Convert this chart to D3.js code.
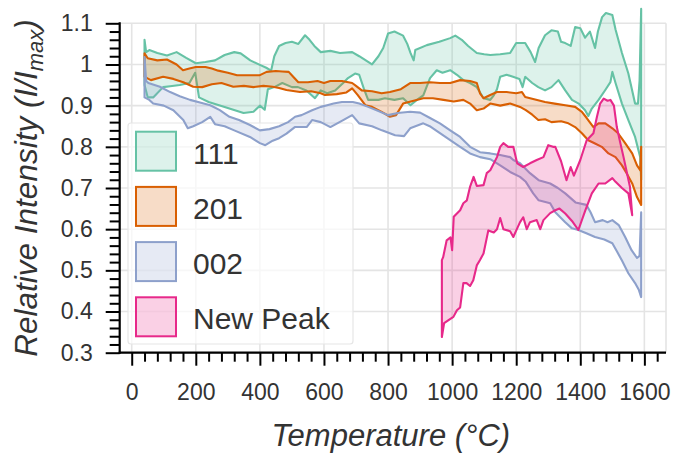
<!DOCTYPE html>
<html>
<head>
<meta charset="utf-8">
<script src="https://cdn.jsdelivr.net/npm/d3@7"></script>
<style>
  body { margin: 0; background: #fff; }
  svg { display: block; font-family: "Liberation Sans", Arial, sans-serif; }
</style>
</head>
<body>
<div id="chart"></div>
<script>
// series names + colours
const seriesNames = ["111", "201", "002", "New Peak"];
const seriesColors = ["#66c2a5", "#d95f02", "#8da0cb", "#e7298a"];

const xTicks = [0, 200, 400, 600, 800, 1000, 1200, 1400, 1600];
const yTicks = [0.3, 0.4, 0.5, 0.6, 0.7, 0.8, 0.9, 1.0, 1.1];

// upper / lower envelope of each band, [temperature, intensity]
const hi111 = [[40,1.06],[45,1.03],[55,1.035],[80,1.028],[110,1.022],[140,1.03],[170,1.016],[200,1.003],[230,1.006],[260,1.01],[290,1.023],[320,1.03],[340,1.027],[370,1.01],[400,0.999],[420,0.992],[435,0.985],[445,1.02],[460,1.045],[480,1.052],[500,1.055],[520,1.05],[541,1.071],[555,1.06],[570,1.045],[590,1.03],[620,1.033],[650,1.028],[688,1.03],[710,1.02],[750,1.0],[770,1.02],[785,1.04],[800,1.075],[820,1.08],[847,1.07],[860,1.05],[870,1.028],[880,1.01],[885,1.035],[921,1.047],[960,1.055],[994,1.064],[1010,1.07],[1030,1.06],[1050,1.045],[1077,1.028],[1100,1.025],[1119,1.023],[1150,1.025],[1181,1.028],[1200,1.052],[1228,1.052],[1245,1.03],[1259,1.006],[1270,1.04],[1290,1.071],[1310,1.083],[1330,1.08],[1340,1.055],[1353,1.052],[1370,1.045],[1384,1.091],[1400,1.088],[1415,1.065],[1430,1.08],[1446,1.04],[1455,1.08],[1468,1.115],[1480,1.125],[1500,1.12],[1510,1.085],[1530,1.028],[1550,0.978],[1571,0.905],[1580,0.905],[1585,0.96],[1590,1.135]];
const lo111 = [[40,0.95],[50,0.92],[67,0.92],[98,0.945],[120,0.947],[150,0.95],[180,0.955],[198,0.98],[210,0.92],[240,0.909],[290,0.897],[349,0.882],[380,0.885],[400,0.9],[415,0.89],[425,0.94],[445,0.945],[470,0.955],[500,0.945],[519,0.945],[545,0.937],[572,0.918],[590,0.937],[610,0.93],[635,0.937],[660,0.955],[675,0.967],[697,0.978],[710,0.975],[725,0.94],[738,0.914],[770,0.914],[790,0.918],[820,0.914],[847,0.918],[870,0.901],[890,0.914],[910,0.925],[931,0.967],[952,0.986],[970,0.98],[994,0.986],[1015,0.975],[1035,0.962],[1056,0.955],[1077,0.945],[1098,0.918],[1119,0.914],[1130,0.925],[1140,0.94],[1150,0.97],[1170,0.975],[1190,0.97],[1210,0.965],[1220,0.945],[1228,0.97],[1250,0.955],[1269,0.945],[1290,0.937],[1310,0.945],[1332,0.962],[1353,0.937],[1374,0.914],[1395,0.905],[1415,0.889],[1425,0.875],[1436,0.893],[1457,0.914],[1478,0.938],[1494,0.957],[1500,0.982],[1510,0.955],[1530,0.905],[1550,0.865],[1571,0.824],[1587,0.775],[1590,0.72]];

const hi201 = [[40,1.027],[50,1.015],[80,1.01],[110,1.012],[140,1.0],[160,0.986],[180,0.99],[200,0.994],[230,0.994],[250,0.99],[270,0.985],[300,0.98],[329,0.974],[360,0.974],[400,0.974],[421,0.982],[450,0.984],[470,0.983],[490,0.982],[504,0.97],[520,0.957],[550,0.957],[580,0.96],[600,0.955],[620,0.96],[656,0.96],[688,0.955],[700,0.948],[718,0.937],[750,0.935],[780,0.93],[806,0.933],[840,0.94],[869,0.955],[900,0.955],[931,0.957],[962,0.955],[994,0.955],[1025,0.962],[1056,0.96],[1077,0.955],[1087,0.93],[1098,0.918],[1119,0.926],[1140,0.933],[1170,0.933],[1200,0.93],[1218,0.933],[1228,0.921],[1259,0.915],[1290,0.909],[1320,0.905],[1353,0.901],[1384,0.897],[1405,0.885],[1420,0.87],[1441,0.848],[1457,0.857],[1478,0.857],[1500,0.845],[1518,0.833],[1540,0.809],[1562,0.784],[1577,0.755],[1587,0.743],[1590,0.8]];
const lo201 = [[40,0.97],[60,0.962],[98,0.97],[130,0.965],[161,0.957],[192,0.946],[220,0.945],[250,0.952],[280,0.955],[317,0.946],[350,0.948],[380,0.945],[411,0.948],[440,0.946],[460,0.943],[483,0.938],[525,0.933],[560,0.935],[590,0.93],[603,0.926],[640,0.928],[670,0.932],[688,0.942],[705,0.926],[729,0.901],[750,0.897],[780,0.885],[806,0.873],[825,0.877],[847,0.905],[880,0.912],[910,0.918],[940,0.918],[973,0.914],[1005,0.91],[1035,0.914],[1056,0.905],[1077,0.889],[1098,0.893],[1119,0.905],[1150,0.9],[1181,0.905],[1212,0.897],[1230,0.889],[1250,0.878],[1269,0.865],[1290,0.867],[1310,0.86],[1340,0.862],[1360,0.858],[1384,0.848],[1405,0.833],[1425,0.816],[1446,0.808],[1467,0.8],[1488,0.784],[1510,0.775],[1530,0.755],[1545,0.735],[1562,0.711],[1577,0.678],[1590,0.659]];

const hi002 = [[40,1.018],[45,0.96],[52,0.955],[88,0.946],[120,0.933],[150,0.923],[182,0.914],[210,0.908],[245,0.901],[275,0.889],[305,0.873],[335,0.865],[369,0.853],[400,0.84],[430,0.843],[460,0.85],[488,0.86],[510,0.873],[530,0.877],[563,0.889],[590,0.897],[610,0.901],[630,0.905],[656,0.909],[690,0.909],[710,0.905],[738,0.897],[770,0.887],[800,0.877],[830,0.882],[869,0.885],[900,0.883],[931,0.87],[962,0.857],[994,0.84],[1025,0.824],[1056,0.8],[1087,0.787],[1119,0.784],[1150,0.78],[1181,0.775],[1191,0.768],[1212,0.76],[1243,0.736],[1270,0.719],[1306,0.711],[1330,0.7],[1353,0.687],[1385,0.665],[1419,0.659],[1432,0.641],[1446,0.617],[1470,0.622],[1485,0.617],[1500,0.622],[1520,0.61],[1540,0.581],[1560,0.549],[1577,0.53],[1585,0.535],[1590,0.641]];
const lo002 = [[40,0.92],[55,0.914],[67,0.905],[100,0.9],[130,0.889],[161,0.865],[175,0.845],[192,0.85],[220,0.86],[245,0.873],[260,0.855],[290,0.85],[320,0.84],[369,0.824],[400,0.809],[417,0.804],[440,0.815],[460,0.821],[483,0.832],[509,0.848],[546,0.848],[563,0.865],[590,0.86],[620,0.848],[660,0.865],[688,0.877],[710,0.857],[750,0.85],[781,0.84],[822,0.828],[850,0.826],[869,0.845],[910,0.857],[930,0.85],[962,0.833],[994,0.816],[1025,0.8],[1056,0.784],[1087,0.775],[1119,0.77],[1150,0.755],[1181,0.739],[1212,0.727],[1230,0.715],[1253,0.687],[1270,0.67],[1306,0.663],[1322,0.641],[1353,0.617],[1374,0.602],[1394,0.598],[1419,0.59],[1446,0.581],[1475,0.575],[1500,0.566],[1515,0.545],[1530,0.524],[1550,0.493],[1571,0.469],[1583,0.452],[1590,0.435]];

const hiNew = [[968,0.525],[972,0.532],[983,0.573],[995,0.58],[1000,0.549],[1005,0.63],[1025,0.646],[1035,0.663],[1046,0.67],[1056,0.703],[1067,0.727],[1077,0.705],[1098,0.707],[1108,0.736],[1119,0.743],[1140,0.775],[1150,0.8],[1160,0.809],[1175,0.8],[1191,0.8],[1203,0.76],[1222,0.751],[1243,0.76],[1264,0.768],[1285,0.775],[1300,0.804],[1315,0.8],[1322,0.8],[1340,0.765],[1357,0.719],[1370,0.751],[1380,0.73],[1400,0.768],[1420,0.816],[1441,0.833],[1452,0.873],[1462,0.905],[1473,0.917],[1485,0.912],[1494,0.914],[1505,0.9],[1514,0.848],[1525,0.809],[1535,0.775],[1546,0.735],[1555,0.703],[1562,0.634]];
const loNew = [[968,0.338],[975,0.372],[990,0.38],[1004,0.387],[1015,0.403],[1025,0.41],[1035,0.469],[1045,0.469],[1056,0.462],[1066,0.476],[1077,0.512],[1087,0.525],[1098,0.541],[1113,0.597],[1130,0.592],[1140,0.6],[1150,0.627],[1160,0.6],[1181,0.595],[1191,0.581],[1202,0.6],[1212,0.617],[1222,0.629],[1233,0.6],[1243,0.617],[1264,0.622],[1275,0.6],[1285,0.622],[1306,0.639],[1322,0.646],[1335,0.65],[1353,0.638],[1374,0.62],[1394,0.598],[1416,0.646],[1436,0.687],[1457,0.711],[1478,0.711],[1500,0.724],[1510,0.715],[1530,0.7],[1550,0.687],[1562,0.634]];

const bands = [[hi111, lo111], [hi201, lo201], [hi002, lo002], [hiNew, loNew]];

const W = 676, H = 455;
const box = { left: 119.7, right: 666, top: 23.3, bottom: 352.7 };
const ink = "#333";

const svg = d3.select("#chart").append("svg")
    .attr("width", W)
    .attr("height", H);

const x = d3.scaleLinear().domain([-37.5, 1667.5]).range([box.left, box.right]);
const y = d3.scaleLinear().domain([0.3, 1.1]).range([box.bottom, box.top]);

// grid
const grid = svg.append("g").attr("stroke", "#e4e4e4").attr("stroke-width", 1.6);
grid.selectAll(".gx").data(xTicks).enter().append("line")
    .attr("x1", d => x(d)).attr("x2", d => x(d))
    .attr("y1", box.top).attr("y2", box.bottom);
grid.selectAll(".gy").data(yTicks).enter().append("line")
    .attr("x1", box.left).attr("x2", box.right)
    .attr("y1", d => y(d)).attr("y2", d => y(d));
grid.append("line").attr("x1", box.right).attr("x2", box.right).attr("y1", box.top).attr("y2", box.bottom);

// legend frame (sits under the data)
const lg = { x: 128, y: 123, w: 225, h: 221, row: 55.2 };
svg.append("rect")
    .attr("x", lg.x).attr("y", lg.y).attr("width", lg.w).attr("height", lg.h)
    .attr("rx", 3)
    .attr("fill", "#fff").attr("fill-opacity", 0.7)
    .attr("stroke", "#e6e6e6").attr("stroke-width", 1.2);

// bands: closed outline like fill_between
const line = d3.line().x(d => x(d[0])).y(d => y(d[1]));
bands.forEach(([hi, lo], i) => {
    const poly = hi.concat(lo.slice().reverse());
    svg.append("path")
        .attr("d", line(poly) + "Z")
        .attr("fill", seriesColors[i])
        .attr("fill-opacity", 0.22)
        .attr("stroke", seriesColors[i])
        .attr("stroke-width", 2.1)
        .attr("stroke-linejoin", "round");
});

// axes
const fmt = d => d === 1 ? "1" : d3.format(".1f")(d);
const minorX = d3.range(40, 1641, 40).filter(d => d % 200 !== 0);
const minorY = d3.range(0.32, 1.1, 0.02).filter(d => Math.abs(d * 10 - Math.round(d * 10)) > 0.01);

svg.append("g").attr("transform", `translate(0,${box.bottom})`)
    .call(d3.axisBottom(x).tickValues(xTicks).tickSize(13).tickPadding(18).tickFormat(d3.format("d")));
svg.append("g").attr("transform", `translate(0,${box.bottom})`)
    .call(d3.axisBottom(x).tickValues(minorX).tickSize(9).tickFormat(""));
svg.append("g").attr("transform", `translate(${box.left},0)`)
    .call(d3.axisLeft(y).tickValues(yTicks).tickSize(14).tickPadding(13).tickFormat(fmt));
svg.append("g").attr("transform", `translate(${box.left},0)`)
    .call(d3.axisLeft(y).tickValues(minorY).tickSize(10).tickFormat(""));

svg.selectAll(".domain").remove();
svg.selectAll(".tick line").attr("stroke", "#000").attr("stroke-width", 2);
svg.selectAll(".tick text").attr("fill", ink).attr("font-size", 23)
    .attr("font-family", "Liberation Sans, Arial, sans-serif");

// black spines left / bottom
svg.append("line").attr("x1", box.left).attr("x2", box.left).attr("y1", box.top - 1).attr("y2", box.bottom + 1)
    .attr("stroke", "#000").attr("stroke-width", 2.2);
svg.append("line").attr("x1", box.left - 1).attr("x2", box.right).attr("y1", box.bottom).attr("y2", box.bottom)
    .attr("stroke", "#000").attr("stroke-width", 2.2);

// legend entries
seriesNames.forEach((name, i) => {
    const ty = 131.7 + i * lg.row;
    svg.append("rect")
        .attr("x", 136).attr("y", ty).attr("width", 40).attr("height", 39)
        .attr("fill", seriesColors[i]).attr("fill-opacity", 0.22)
        .attr("stroke", seriesColors[i]).attr("stroke-width", 2);
    svg.append("text")
        .attr("x", 193).attr("y", ty + 31.8)
        .attr("font-size", 30).attr("fill", ink)
        .text(name);
});

// axis titles
svg.append("text")
    .attr("x", (box.left + box.right) / 2 - 2).attr("y", 446)
    .attr("text-anchor", "middle")
    .attr("font-size", 31).attr("font-style", "italic").attr("fill", ink)
    .text("Temperature (°C)");

const yl = svg.append("text")
    .attr("transform", `translate(37,${(box.top + box.bottom) / 2}) rotate(-90)`)
    .attr("text-anchor", "middle")
    .attr("font-size", 31.5).attr("font-style", "italic").attr("fill", ink);
yl.append("tspan").text("Relative Intensity (I/I");
yl.append("tspan").attr("font-size", 22).attr("dy", 6).text("max");
yl.append("tspan").attr("dy", -6).text(")");
</script>
</body>
</html>
